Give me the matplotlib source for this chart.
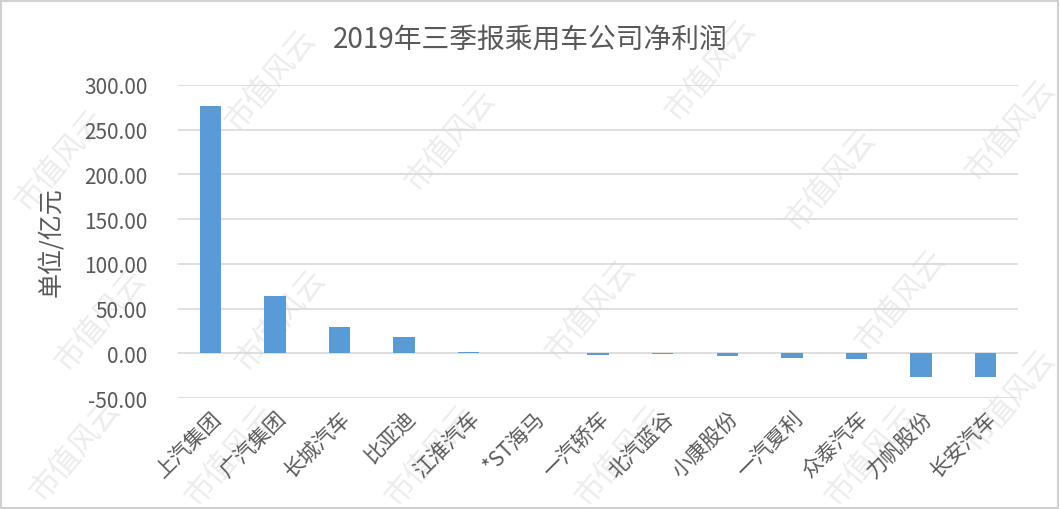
import numpy as np
import matplotlib
matplotlib.use('Agg')
import matplotlib.pyplot as plt

plt.rcParams['font.family'] = ['Noto Sans CJK SC', 'DejaVu Sans']

# 数据 (亿元)
companies = ['上汽集团', '广汽集团', '长城汽车', '比亚迪', '江淮汽车', '*ST海马', '一汽轿车',
             '北汽蓝谷', '小康股份', '一汽夏利', '众泰汽车', '力帆股份', '长安汽车']
net_profit = [277.0, 64.0, 29.5, 18.0, 1.4, 0.1, -1.5, -1.3, -2.8, -5.0, -6.3, -26.5, -26.3]
yticks = [-50, 0, 50, 100, 150, 200, 250, 300]

fig = plt.figure(figsize=(10.6, 5.1), dpi=100)
ax = fig.add_axes([178/1060, 1 - 399/510, 840/1060, 313/510])
ax.set_zorder(1)
ax.patch.set_alpha(0)

x = np.arange(len(companies))
ax.bar(x, net_profit, width=0.33, color='#5b9bd5', zorder=3)

ax.set_xlim(-0.5, len(companies) - 0.5)
ax.set_ylim(-50, 300)
ax.set_yticks(yticks)
ax.set_yticklabels(['%.2f' % v for v in yticks], fontsize=15, color='#595959')
ax.set_xticks(x)
ax.set_xticklabels(companies, rotation=45, ha='right', rotation_mode='anchor',
                   fontsize=15, color='#595959')
ax.tick_params(axis='y', length=0, pad=22)
ax.tick_params(axis='x', length=0, pad=6)
ax.grid(axis='y', color='#d9d9d9', linewidth=1.2, zorder=0)
for s in ax.spines.values():
    s.set_visible(False)

ax.set_ylabel('单位/亿元', fontsize=18, color='#595959', labelpad=14)
fig.text(0.5, 1 - 40/510, '2019年三季报乘用车公司净利润', ha='center', va='center',
         fontsize=20, color='#595959')

# 水印
wm = [(75, 450), (100, 320), (270, 80), (280, 320), (230, 455), (430, 455), (450, 140),
      (590, 310), (620, 455), (710, 70), (830, 180), (900, 300), (870, 455), (1010, 130),
      (1010, 400), (60, 160)]
for px, py in wm:
    fig.text(px/1060, 1 - py/510, '市值风云', rotation=50, ha='center', va='center',
             fontsize=22, color='#ececec', zorder=0)

# 边框
fig.patches.append(plt.Rectangle((0.001, 0.002), 0.997, 0.995, transform=fig.transFigure,
                                 fill=False, edgecolor='#d0d0d0', linewidth=1.5))

plt.savefig('out.png', dpi=100)
